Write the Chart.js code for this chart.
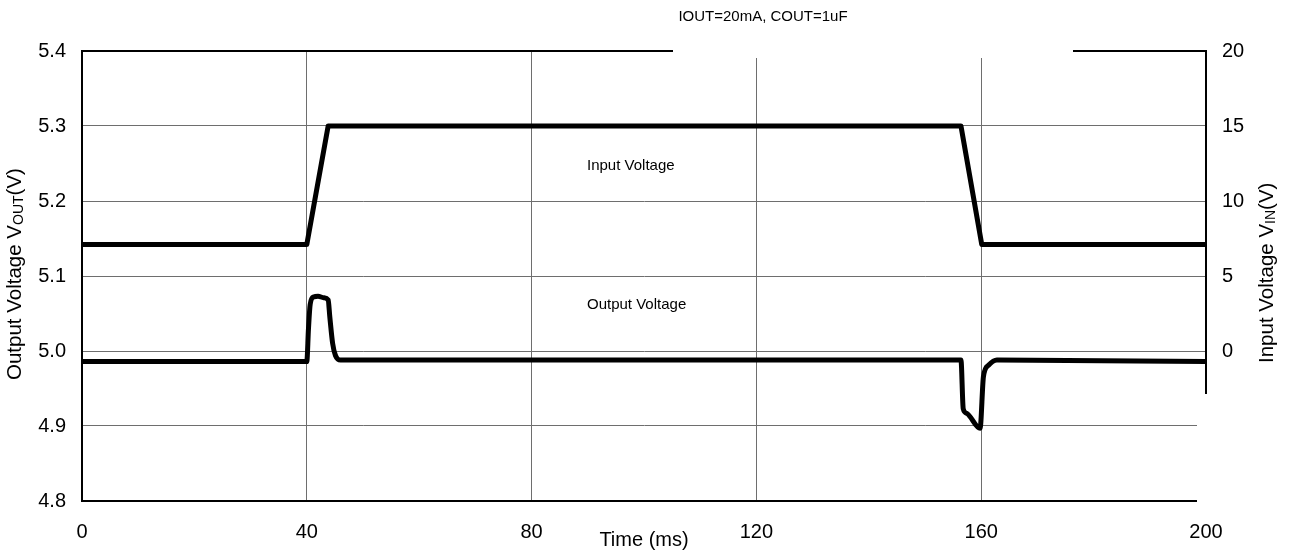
<!DOCTYPE html>
<html>
<head>
<meta charset="utf-8">
<title>Line transient response</title>
<script src="https://cdn.jsdelivr.net/npm/chart.js@4.4.1/dist/chart.umd.min.js"></script>
<style>
  html, body { margin: 0; padding: 0; background: #fff; }
  #wrap { width: 1294px; height: 555px; }
</style>
</head>
<body>
<div id="wrap"><canvas id="myChart" width="1294" height="555"></canvas></div>
<script>
'use strict';

// time ticks (ms)
var timeTicks = [0, 40, 80, 120, 160, 200];

// input voltage trace (right axis, V)
var inTime = [0, 40, 43.8, 156.4, 160.1, 200];
var inVolt = [7.1, 7.1, 15, 15, 7.1, 7.1];

// output voltage trace (left axis, V)
var outTime = [0, 40, 40.3, 40.6, 41.2, 42.0, 43.0, 43.8, 44.1, 44.6, 45.1, 46.0, 156.4, 156.8, 157.4, 159.8, 160.4, 161.3, 162.8, 200];
var outVolt = [4.986, 4.986, 5.03, 5.062, 5.072, 5.073, 5.071, 5.068, 5.045, 5.01, 4.994, 4.988, 4.988, 4.923, 4.917, 4.897, 4.966, 4.981, 4.988, 4.986];

// text
var chartTitle = 'IOUT=20mA, COUT=1uF';
var inLabel = 'Input Voltage';
var outLabel = 'Output Voltage';
var xTitle = 'Time (ms)';

var fontName = '"Liberation Sans", Arial, sans-serif';

// build {x,y} points from the arrays
function toPoints(xs, ys) {
  var pts = [];
  for (var i = 0; i < xs.length; i++) {
    pts.push({ x: xs[i], y: ys[i] });
  }
  return pts;
}

// draw a rotated axis title with a subscript part
function rotatedTitle(ctx, x, yStart, main, sub, tail) {
  ctx.save();
  ctx.translate(x, yStart);
  ctx.rotate(-Math.PI / 2);
  ctx.fillStyle = '#000';
  ctx.textAlign = 'left';
  ctx.textBaseline = 'alphabetic';
  ctx.font = '20.5px ' + fontName;
  ctx.fillText(main, 0, 0);
  var pos = ctx.measureText(main).width;
  ctx.font = '14px ' + fontName;
  ctx.fillText(sub, pos, 2);
  pos += ctx.measureText(sub).width;
  ctx.font = '20.5px ' + fontName;
  ctx.fillText(tail, pos, 0);
  ctx.restore();
}

// labels and the little white patches of the original figure
var textPlugin = {
  id: 'textPlugin',
  afterDraw: function (chart) {
    var ctx = chart.ctx;
    ctx.save();
    // white boxes that cut the frame in the original
    ctx.fillStyle = '#fff';
    ctx.fillRect(673, 46, 400, 12);
    ctx.fillRect(1197, 394, 16, 112);

    ctx.fillStyle = '#000';
    ctx.textBaseline = 'alphabetic';
    ctx.font = '15px ' + fontName;
    ctx.textAlign = 'center';
    ctx.fillText(chartTitle, 763, 21);
    ctx.textAlign = 'left';
    ctx.fillText(inLabel, 587, 170);
    ctx.fillText(outLabel, 587, 309);

    ctx.font = '20px ' + fontName;
    ctx.textAlign = 'center';
    ctx.fillText(xTitle, 644, 546);
    ctx.restore();

    rotatedTitle(ctx, 21, 380, 'Output Voltage V', 'OUT', '(V)');
    rotatedTitle(ctx, 1273, 363, 'Input Voltage V', 'IN', '(V)');
  }
};

var ctx = document.getElementById('myChart').getContext('2d');
var chart = new Chart(ctx, {
  type: 'line',
  data: {
    datasets: [{
      label: inLabel,
      data: toPoints(inTime, inVolt),
      yAxisID: 'y2',
      borderColor: '#000',
      borderWidth: 5,
      pointRadius: 0,
      borderJoinStyle: 'round',
      borderCapStyle: 'round',
      tension: 0
    },
    {
      label: outLabel,
      data: toPoints(outTime, outVolt),
      yAxisID: 'y',
      borderColor: '#000',
      borderWidth: 5,
      pointRadius: 0,
      borderJoinStyle: 'round',
      borderCapStyle: 'round',
      cubicInterpolationMode: 'monotone'
    }]
  },
  options: {
    responsive: false,
    animation: false,
    devicePixelRatio: 1,
    layout: { padding: { top: 51, left: 0, right: 0, bottom: 0 } },
    plugins: {
      legend: { display: false },
      tooltip: { enabled: false }
    },
    scales: {
      x: {
        type: 'linear',
        min: 0,
        max: 200,
        afterFit: function (scale) { scale.height = 54; },
        afterBuildTicks: function (scale) {
          scale.ticks = timeTicks.map(function (v) { return { value: v }; });
        },
        ticks: {
          color: '#000',
          padding: 19,
          maxRotation: 0,
          font: { family: fontName, size: 20 }
        },
        grid: { color: '#6e6e6e', lineWidth: 1, drawTicks: false },
        border: { display: true, color: '#000', width: 2 }
      },
      y: {
        position: 'left',
        min: 4.8,
        max: 5.4,
        afterFit: function (scale) { scale.width = 82; },
        ticks: {
          stepSize: 0.1,
          color: '#000',
          padding: 16,
          font: { family: fontName, size: 20 },
          callback: function (v) { return Number(v).toFixed(1); }
        },
        grid: {
          drawTicks: false,
          color: function (c) { return c.tick && Math.abs(c.tick.value - 5.4) < 1e-6 ? '#000' : '#6e6e6e'; },
          lineWidth: function (c) { return c.tick && Math.abs(c.tick.value - 5.4) < 1e-6 ? 2 : 1; }
        },
        border: { display: true, color: '#000', width: 2 }
      },
      y2: {
        position: 'right',
        min: -10,
        max: 20,
        afterFit: function (scale) { scale.width = 88; },
        ticks: {
          stepSize: 5,
          color: '#000',
          padding: 16,
          font: { family: fontName, size: 20 },
          callback: function (v) { return v >= 0 ? v : ''; }
        },
        grid: { display: false, drawTicks: false },
        border: { display: true, color: '#000', width: 2 }
      }
    }
  },
  plugins: [textPlugin]
});
</script>
</body>
</html>
